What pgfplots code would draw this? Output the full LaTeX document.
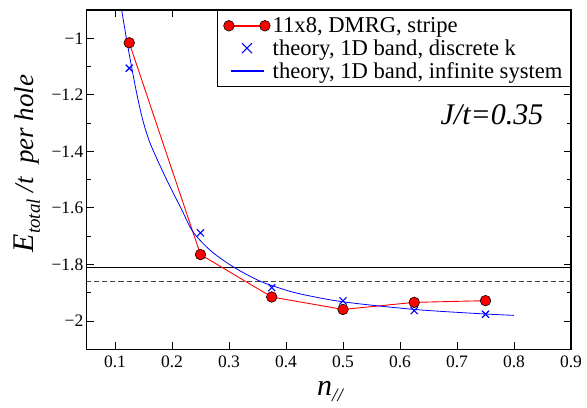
\documentclass[border=0pt]{standalone}
\usepackage{fontspec}
\setmainfont{Liberation Serif}
\usepackage{pgfplots}
\pgfplotsset{compat=1.18}
\newcommand{\lstrut}{\rule[-5pt]{0pt}{20pt}}
\begin{document}
\begin{tikzpicture}
\begin{axis}[
  scale only axis,
  width=484.5pt, height=339.3pt,
  xmin=0.05, xmax=0.9, ymin=-2.1, ymax=-0.9,
  axis line style={line width=1.2pt},
  every tick/.style={black, line width=0.9pt},
  major tick length=7pt, minor tick length=4.5pt,
  tick align=inside,
  xtick={0.1,0.2,0.3,0.4,0.5,0.6,0.7,0.8,0.9},
  xticklabels={0.1,0.2,0.3,0.4,0.5,0.6,0.7,0.8,0.9},
  ytick={-2,-1.8,-1.6,-1.4,-1.2,-1},
  yticklabels={−2,−1.8,−1.6,−1.4,−1.2,−1},
  minor ytick={-2.1,-1.9,-1.7,-1.5,-1.3,-1.1,-0.9},
  tick label style={font=\fontsize{17.5}{20}\selectfont},
  xticklabel style={inner sep=6pt},
  yticklabel style={inner sep=3pt},
  xlabel={\fontsize{30}{32}\selectfont\itshape n\raisebox{-0.45ex}{\fontsize{19}{20}\selectfont //}},
  xlabel style={at={(axis description cs:0.5026,-0.1347)}, anchor=base},
  ylabel={\itshape\fontsize{30}{32}\selectfont E\raisebox{-0.5ex}{\fontsize{19}{20}\selectfont total}\fontsize{27}{30}\selectfont\ /t\ \ per hole},
  ylabel style={at={(axis description cs:-0.1104,0.548)}, anchor=base, rotate=0},
  legend style={at={(rel axis cs:1,1)}, anchor=north east, line width=1pt,
    font=\fontsize{22.6}{24}\selectfont, inner xsep=6pt, inner ysep=5pt,
    row sep=1.5pt, cells={anchor=west}},
  legend cell align=left,
]
\addplot[black, line width=0.8pt, forget plot] coordinates {(0.05,-1.812) (0.9,-1.812)};
\addplot[black!75, line width=0.8pt, dash pattern=on 5pt off 3pt, forget plot] coordinates {(0.05,-1.859) (0.9,-1.859)};

\addplot[color=red, line width=0.9pt, mark=*, mark size=5.3pt, mark options={fill=red, draw=black, line width=0.6pt},
  legend image code/.code={
    \fill[fill=red] (0pt,-0.45pt) rectangle (36pt,0.45pt);
    \draw[draw=black, fill=red, line width=0.6pt] (0pt,0pt) circle (5.3pt);
    \draw[draw=black, fill=red, line width=0.6pt] (36pt,0pt) circle (5.3pt);
  }] coordinates {
  (0.125,-1.016) (0.25,-1.765) (0.375,-1.915) (0.5,-1.959) (0.625,-1.934) (0.75,-1.928)
};
\addlegendentry{\lstrut 11x8, DMRG, stripe}

\addplot[color=blue, only marks, mark=x, mark size=5pt, mark options={line width=1.1pt},
  legend image code/.code={
    \path (-5.3pt,0pt) (41.3pt,0pt);
    \draw[draw=blue, line width=1.1pt] (13pt,-5pt) -- (23pt,5pt) (13pt,5pt) -- (23pt,-5pt);
  }] coordinates {
  (0.125,-1.106) (0.25,-1.688) (0.375,-1.882) (0.5,-1.929) (0.625,-1.963) (0.75,-1.976)
};
\addlegendentry{\lstrut theory, 1D band, discrete k}

\addplot[color=blue, line width=0.8pt, smooth,
  legend image code/.code={
    \path (-5.3pt,0pt) (41.3pt,0pt);
    \fill[fill=blue] (2pt,-0.4pt) rectangle (34pt,0.4pt);
  }] coordinates {
  (0.1117,-0.90) (0.120,-1.00) (0.129,-1.10) (0.1386,-1.20) (0.1486,-1.288)
  (0.1614,-1.370) (0.1877,-1.488) (0.217,-1.606) (0.2373,-1.686) (0.270,-1.755)
  (0.3105,-1.812) (0.3544,-1.859) (0.3895,-1.884) (0.4246,-1.904) (0.5,-1.932)
  (0.625,-1.959) (0.74,-1.974) (0.8,-1.980)
};
\addlegendentry{\lstrut theory, 1D band, infinite system}

\node[font=\fontsize{30}{32}\selectfont\itshape] at (axis description cs:0.837,0.6905) {J/t=0.35};
\end{axis}
\pgfresetboundingbox
\path ([shift={(-86.5pt,-57.7pt)}]current axis.south west) rectangle ([shift={(16pt,10pt)}]current axis.north east);
\end{tikzpicture}
\end{document}
